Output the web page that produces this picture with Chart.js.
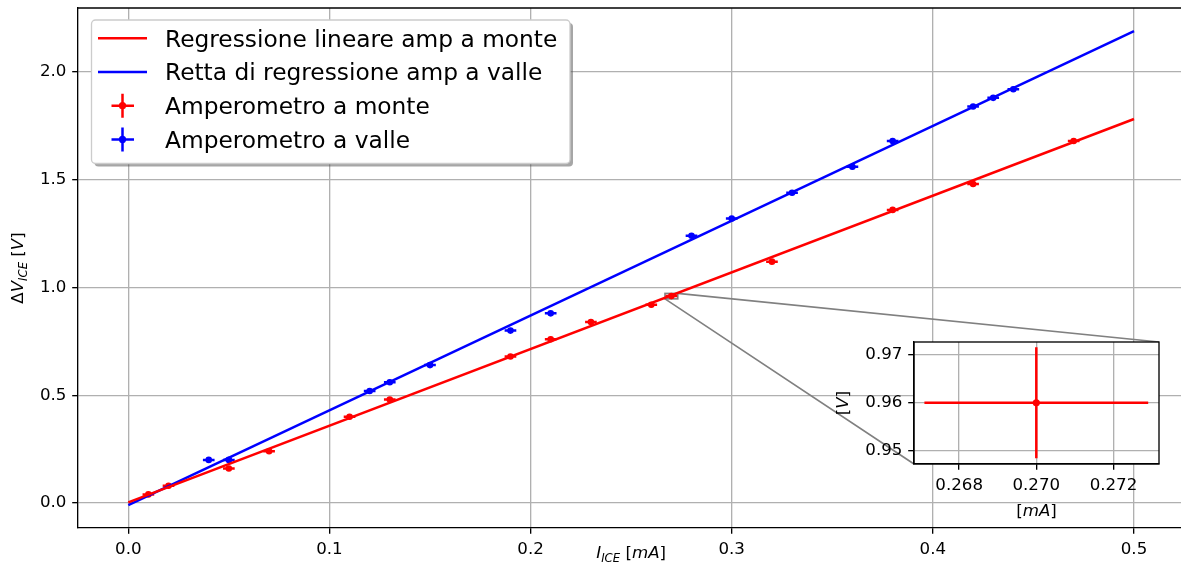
<!DOCTYPE html>
<html>
<head>
<meta charset="utf-8">
<script src="https://cdn.jsdelivr.net/npm/chart.js@4.4.0/dist/chart.umd.min.js"></script>
<style>
  html, body { margin: 0; padding: 0; background: #fff; }
  #wrap { position: relative; width: 1181px; height: 565px; overflow: hidden; }
  #main { position: absolute; left: 0; top: 0; }
  #inset { position: absolute; left: 820px; top: 330px; }
</style>
</head>
<body>
<div id="wrap">
  <!-- the plot area runs a few px past the right edge of the picture, as in the original -->
  <canvas id="main" width="1200" height="565" style="width:1200px;height:565px"></canvas>
  <canvas id="inset" width="361" height="200" style="width:361px;height:200px"></canvas>
</div>
<script>
// measured points (I in mA, dV in V)
const monteX = [0.01, 0.02, 0.05, 0.07, 0.11, 0.13, 0.19, 0.21, 0.23, 0.26, 0.27, 0.32, 0.38, 0.42, 0.47];
const monteY = [0.04, 0.08, 0.16, 0.24, 0.40, 0.48, 0.68, 0.76, 0.84, 0.92, 0.96, 1.12, 1.36, 1.48, 1.68];
const valleX = [0.04, 0.05, 0.12, 0.13, 0.15, 0.19, 0.21, 0.28, 0.30, 0.33, 0.36, 0.38, 0.42, 0.43, 0.44];
const valleY = [0.20, 0.20, 0.52, 0.56, 0.64, 0.80, 0.88, 1.24, 1.32, 1.44, 1.56, 1.68, 1.84, 1.88, 1.92];
const errX = 0.0029;
const errY = 0.0115;

// regression lines, end points
const fitX = [0, 0.5];
const monteFitY = [0.003, 1.782];
const valleFitY = [-0.01, 2.19];

const xTicks = [0, 0.1, 0.2, 0.3, 0.4, 0.5];
const yTicks = [0, 0.5, 1.0, 1.5, 2.0];
const insetXTicks = [0.268, 0.270, 0.272];
const insetYTicks = [0.95, 0.96, 0.97];
const insetXRange = [0.26683, 0.27318];
const insetYRange = [0.9473, 0.9726];

const RED = '#ff0000';
const BLUE = '#0000ff';
const FONT = '"DejaVu Sans"';
const INSET_LEFT = 820, INSET_TOP = 330;

const toPts = (xs, ys) => xs.map((v, i) => ({ x: v, y: ys[i] }));

Chart.defaults.font.family = FONT;
Chart.defaults.color = '#000';

function drawRuns(ctx, runs, x, y, rotate) {
  ctx.save();
  ctx.translate(x, y);
  if (rotate) ctx.rotate(-Math.PI / 2);
  ctx.textBaseline = 'alphabetic';
  ctx.textAlign = 'left';
  ctx.fillStyle = '#000';
  let w = 0;
  runs.forEach(r => { ctx.font = r.font; r.w = ctx.measureText(r.t).width; w += r.w; });
  let cx = -w / 2;
  runs.forEach(r => { ctx.font = r.font; ctx.fillText(r.t, cx, r.dy || 0); cx += r.w; });
  ctx.restore();
}
const up = s => s + 'px ' + FONT;
const it = s => 'italic ' + s + 'px ' + FONT;

// error bars under the markers
const errorBars = {
  id: 'errorBars',
  beforeDatasetsDraw(chart) {
    const { ctx, chartArea: a, scales: { x, y } } = chart;
    ctx.save();
    ctx.beginPath();
    ctx.rect(a.left, a.top, a.right - a.left, a.bottom - a.top);
    ctx.clip();
    chart.data.datasets.forEach(ds => {
      if (!ds.errX) return;
      ctx.strokeStyle = ds.backgroundColor;
      ctx.lineWidth = 2.5;
      ds.data.forEach(p => {
        const px = x.getPixelForValue(p.x), py = y.getPixelForValue(p.y);
        ctx.beginPath();
        ctx.moveTo(x.getPixelForValue(p.x - ds.errX), py);
        ctx.lineTo(x.getPixelForValue(p.x + ds.errX), py);
        ctx.moveTo(px, y.getPixelForValue(p.y - ds.errY));
        ctx.lineTo(px, y.getPixelForValue(p.y + ds.errY));
        ctx.stroke();
      });
    });
    ctx.restore();
  }
};

const scatterSets = () => [
  { label: 'Amperometro a monte', data: toPts(monteX, monteY), errX: errX, errY: errY,
    backgroundColor: RED, borderColor: RED, pointRadius: 3.3, borderWidth: 0 },
  { label: 'Amperometro a valle', data: toPts(valleX, valleY), errX: errX, errY: errY,
    backgroundColor: BLUE, borderColor: BLUE, pointRadius: 3.3, borderWidth: 0 }
];

function axis(min, max, ticks, fmt, size) {
  return {
    type: 'linear', min: min, max: max,
    afterBuildTicks: s => { s.ticks = ticks.map(v => ({ value: v })); },
    afterFit: s => {
      if (s.isHorizontal()) s.height = size; else s.width = size;
      // no extra room for overflowing labels, the plot area is fixed
      s.paddingTop = s.paddingBottom = s.paddingLeft = s.paddingRight = 0;
    },
    ticks: { font: { size: 16.67 }, color: '#000', padding: 5.8, maxRotation: 0,
      callback: v => v.toFixed(fmt) },
    grid: { color: '#b0b0b0', lineWidth: 1.33, tickLength: 5.8, tickColor: '#000', tickWidth: 1.33 },
    border: { display: true, color: '#000', width: 1.33 }
  };
}

// ---------- inset ----------
const insetFrame = {
  id: 'insetFrame',
  beforeDraw(chart) {
    const { ctx, chartArea: a } = chart;
    ctx.save();
    ctx.fillStyle = '#fff';
    ctx.fillRect(a.left, a.top, a.right - a.left, a.bottom - a.top);
    ctx.restore();
  },
  afterDraw(chart) {
    const { ctx, chartArea: a } = chart;
    ctx.save();
    ctx.strokeStyle = '#000';
    ctx.lineWidth = 1.33;
    ctx.strokeRect(a.left, a.top, a.right - a.left, a.bottom - a.top);
    ctx.restore();
    drawRuns(ctx, [{ t: '[', font: up(16.67) }, { t: 'mA', font: it(16.67) }, { t: ']', font: up(16.67) }],
      (a.left + a.right) / 2, 186, false);
    drawRuns(ctx, [{ t: '[', font: up(16.67) }, { t: 'V', font: it(16.67) }, { t: ']', font: up(16.67) }],
      28, (a.top + a.bottom) / 2, true);
  }
};

const insetChart = new Chart(document.getElementById('inset'), {
  type: 'scatter',
  data: { datasets: scatterSets() },
  options: {
    responsive: false, animation: false, events: [], devicePixelRatio: 1,
    layout: { padding: { left: 0, top: 12, right: 22, bottom: 0 } },
    plugins: { legend: { display: false }, tooltip: { enabled: false } },
    scales: {
      x: axis(insetXRange[0], insetXRange[1], insetXTicks, 3, 66),
      y: axis(insetYRange[0], insetYRange[1], insetYTicks, 2, 94)
    }
  },
  plugins: [insetFrame, errorBars]
});
insetChart.data.datasets.forEach(d => { d.pointRadius = 3.6; });
insetChart.update();

// ---------- main ----------
const markInset = {
  id: 'markInset',
  beforeDatasetsDraw(chart) {
    const { ctx, scales: { x, y } } = chart;
    const ix = insetChart.scales.x, iy = insetChart.scales.y;
    const x0 = x.getPixelForValue(insetXRange[0]), x1 = x.getPixelForValue(insetXRange[1]);
    const y0 = y.getPixelForValue(insetYRange[0]), y1 = y.getPixelForValue(insetYRange[1]);
    ctx.save();
    ctx.strokeStyle = '#808080';
    ctx.lineWidth = 1.6;
    ctx.strokeRect(x0, y1, x1 - x0, y0 - y1);
    ctx.beginPath();
    ctx.moveTo(x1, y1);
    ctx.lineTo(INSET_LEFT + ix.getPixelForValue(insetXRange[1]), INSET_TOP + iy.getPixelForValue(insetYRange[1]));
    ctx.moveTo(x0, y0);
    ctx.lineTo(INSET_LEFT + ix.getPixelForValue(insetXRange[0]), INSET_TOP + iy.getPixelForValue(insetYRange[0]));
    ctx.stroke();
    ctx.restore();
  }
};

const legendRows = [
  { label: 'Regressione lineare amp a monte', color: RED, kind: 'line' },
  { label: 'Retta di regressione amp a valle', color: BLUE, kind: 'line' },
  { label: 'Amperometro a monte', color: RED, kind: 'err' },
  { label: 'Amperometro a valle', color: BLUE, kind: 'err' }
];

const mainDecor = {
  id: 'mainDecor',
  afterDatasetsDraw(chart) {
    const { ctx, chartArea: a } = chart;
    ctx.save();
    ctx.strokeStyle = '#000';
    ctx.lineWidth = 1.33;
    ctx.beginPath();
    ctx.moveTo(a.left, a.top);
    ctx.lineTo(a.right, a.top);
    ctx.stroke();
    ctx.restore();
  },
  afterDraw(chart) {
    const { ctx, chartArea: a } = chart;
    // axis titles
    drawRuns(ctx, [
      { t: 'I', font: it(16.67) }, { t: 'ICE', font: it(11.67), dy: 3.5 },
      { t: ' [', font: up(16.67) }, { t: 'mA', font: it(16.67) }, { t: ']', font: up(16.67) }
    ], (a.left + a.right) / 2, 558, false);
    drawRuns(ctx, [
      { t: 'Δ', font: up(16.67) }, { t: 'V', font: it(16.67) }, { t: 'ICE', font: it(11.67), dy: 3.5 },
      { t: ' [', font: up(16.67) }, { t: 'V', font: it(16.67) }, { t: ']', font: up(16.67) }
    ], 23, (a.top + a.bottom) / 2, true);

    // legend
    const bx = 91.5, by = 20, bw = 478.5, bh = 143.5, r = 4;
    ctx.save();
    const box = (ox, oy) => {
      ctx.beginPath();
      ctx.roundRect(bx + ox, by + oy, bw, bh, r);
    };
    box(3, 3);
    ctx.fillStyle = 'rgba(77,77,77,0.5)';
    ctx.fill();
    box(0, 0);
    ctx.fillStyle = '#fff';
    ctx.fill();
    ctx.strokeStyle = '#cccccc';
    ctx.lineWidth = 1.33;
    ctx.stroke();
    ctx.font = up(23.3);
    ctx.textBaseline = 'alphabetic';
    ctx.textAlign = 'left';
    legendRows.forEach((row, i) => {
      const cy = 38.3 + i * 33.7;
      ctx.strokeStyle = row.color;
      ctx.fillStyle = row.color;
      ctx.lineWidth = 2.5;
      ctx.beginPath();
      if (row.kind === 'line') {
        ctx.moveTo(98, cy);
        ctx.lineTo(147, cy);
        ctx.stroke();
      } else {
        ctx.moveTo(111.5, cy);
        ctx.lineTo(134, cy);
        ctx.moveTo(122.5, cy - 12);
        ctx.lineTo(122.5, cy + 12);
        ctx.stroke();
        ctx.beginPath();
        ctx.arc(122.5, cy, 3.6, 0, Math.PI * 2);
        ctx.fill();
      }
      ctx.fillStyle = '#000';
      ctx.fillText(row.label, 165, cy + 8.2);
    });
    ctx.restore();
  }
};

new Chart(document.getElementById('main'), {
  type: 'scatter',
  data: {
    datasets: [
      { label: 'Regressione lineare amp a monte', data: toPts(fitX, monteFitY), showLine: true,
        borderColor: RED, backgroundColor: RED, borderWidth: 2.5, pointRadius: 0 },
      { label: 'Retta di regressione amp a valle', data: toPts(fitX, valleFitY), showLine: true,
        borderColor: BLUE, backgroundColor: BLUE, borderWidth: 2.5, pointRadius: 0 },
      ...scatterSets()
    ]
  },
  options: {
    responsive: false, animation: false, events: [], devicePixelRatio: 1,
    layout: { padding: { left: 0, top: 8, right: 15.7, bottom: 0 } },
    plugins: { legend: { display: false }, tooltip: { enabled: false } },
    scales: {
      x: axis(-0.025, 0.525, xTicks, 1, 37),
      y: axis(-0.116, 2.297, yTicks, 1, 78)
    }
  },
  plugins: [markInset, errorBars, mainDecor]
});
</script>
</body>
</html>
